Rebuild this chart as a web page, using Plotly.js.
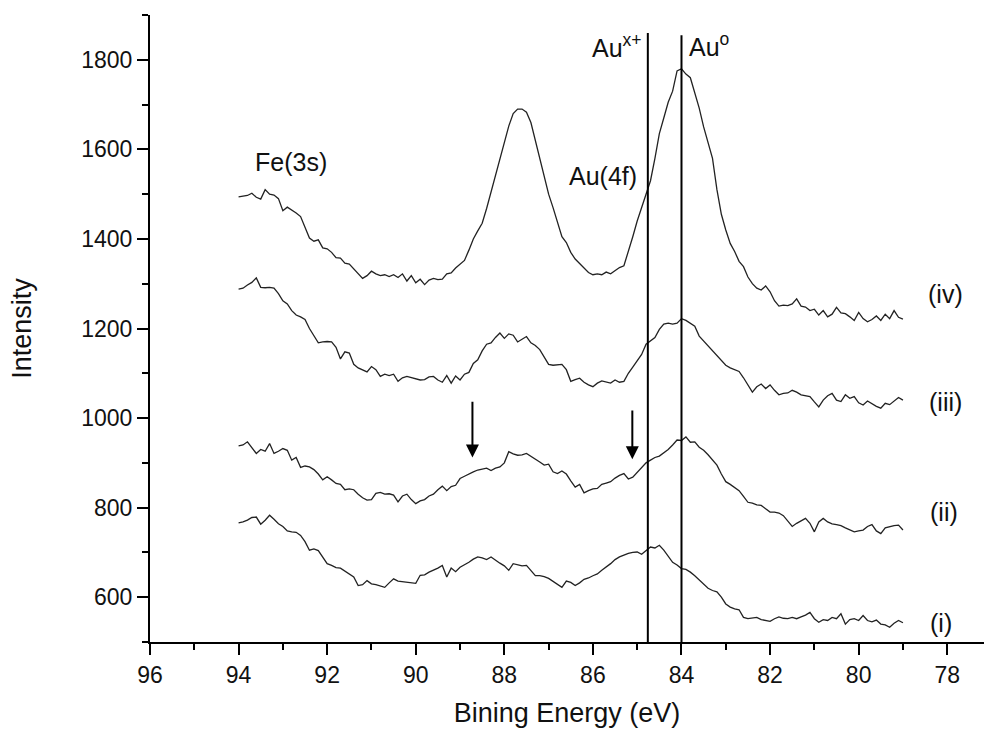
<!DOCTYPE html>
<html>
<head>
<meta charset="utf-8">
<script src="https://cdn.plot.ly/plotly-3.0.1.min.js"></script>
<style>html,body{margin:0;padding:0;background:#fff;}#chart{width:984px;height:736px;}</style>
</head>
<body>
<div id="chart"></div>
<script>
// Binding energy grid (eV), 94.0 down to 79.0 in 0.1 eV steps
const energy = Array.from({length: 151}, (_, i) => +(94 - 0.1 * i).toFixed(1));

const seriesIV = [
1494,1495,1497,1502,1493,1489,1510,1500,1498,1490,
1463,1471,1465,1458,1450,1425,1402,1395,1398,1380,
1378,1370,1358,1357,1346,1344,1333,1322,1312,1318,
1328,1322,1318,1320,1316,1320,1314,1322,1306,1318,
1302,1310,1298,1308,1312,1309,1310,1322,1324,1335,
1343,1352,1375,1400,1418,1435,1468,1505,1545,1582,
1620,1652,1680,1690,1690,1683,1660,1620,1585,1545,
1500,1470,1440,1405,1392,1370,1355,1345,1333,1325,
1320,1322,1320,1326,1322,1330,1336,1340,1370,1405,
1440,1470,1495,1530,1580,1635,1670,1705,1730,1775,
1780,1768,1760,1725,1692,1650,1615,1580,1510,1455,
1420,1390,1372,1350,1338,1315,1300,1290,1286,1295,
1282,1262,1250,1252,1251,1255,1266,1250,1248,1240,
1243,1230,1240,1226,1232,1247,1235,1233,1226,1218,
1236,1222,1215,1220,1228,1218,1232,1222,1240,1225,
1221];

const seriesIII = [
1288,1290,1297,1303,1313,1292,1291,1292,1290,1278,
1262,1255,1240,1230,1226,1220,1200,1185,1168,1170,
1171,1170,1158,1132,1148,1145,1120,1112,1108,1103,
1115,1108,1093,1098,1095,1098,1082,1090,1093,1090,
1087,1085,1086,1092,1093,1085,1080,1095,1078,1094,
1085,1098,1102,1122,1130,1150,1165,1168,1180,1190,
1178,1188,1185,1170,1176,1182,1168,1162,1153,1138,
1120,1118,1119,1120,1108,1082,1086,1089,1080,1074,
1070,1078,1083,1080,1078,1085,1080,1082,1100,1114,
1128,1142,1165,1172,1180,1198,1210,1212,1210,1212,
1222,1218,1212,1205,1183,1172,1162,1150,1140,1128,
1118,1112,1108,1104,1090,1075,1058,1070,1076,1066,
1074,1062,1052,1055,1056,1062,1058,1052,1050,1048,
1036,1025,1040,1050,1055,1040,1037,1052,1044,1048,
1034,1029,1038,1032,1026,1022,1033,1030,1038,1046,
1040];

const seriesII = [
938,940,947,935,921,930,926,943,921,926,
932,928,906,912,890,893,891,885,875,862,
869,862,854,852,840,842,840,830,822,817,
818,832,834,830,831,828,813,826,830,818,
809,815,818,826,830,840,848,838,847,850,
865,870,876,880,884,886,888,883,888,891,
900,925,920,917,918,921,915,908,902,895,
897,880,876,882,875,860,846,852,833,838,
842,843,852,855,858,866,872,876,864,868,
878,888,900,906,912,915,922,930,940,951,
950,958,946,947,935,928,918,906,895,875,
858,852,845,838,825,812,810,806,805,798,
790,790,788,782,770,758,765,770,776,765,
746,768,776,768,764,762,760,755,750,746,
748,750,758,762,748,742,755,758,760,761,
750];

const seriesI = [
766,768,772,778,779,763,772,783,774,764,
758,748,746,745,738,724,705,708,704,690,
675,671,666,665,658,652,645,626,628,637,
630,628,625,622,632,641,636,635,634,633,
631,649,650,656,660,665,671,645,665,657,
667,672,678,685,690,688,684,690,682,676,
670,660,675,672,670,671,660,648,648,646,
642,635,628,622,636,633,626,632,640,643,
648,652,660,667,675,684,690,694,698,700,
701,696,705,712,710,716,705,692,678,672,
664,662,656,648,638,628,620,615,612,600,
585,578,574,572,555,552,553,555,550,548,
546,552,556,553,552,555,552,556,560,566,
552,544,550,548,555,552,563,540,550,552,
548,559,548,545,549,540,538,533,542,548,
543];

const seriesLabels = ['(iv)', '(iii)', '(ii)', '(i)'];
const refLineEnergies = [84.76, 84.0];   // Au x+ and Au 0 positions
const refLineTops = [1860, 1855];
const arrowEnergies = [88.72, 85.11];

const allSeries = [seriesIV, seriesIII, seriesII, seriesI];
const traces = allSeries.map((ys, k) => ({
  x: energy, y: ys, type: 'scatter', mode: 'lines',
  name: seriesLabels[k], showlegend: false,
  line: {color: '#222', width: 1.3}
}));

const FONT = 'Liberation Sans, Arial, Helvetica, sans-serif';

const shapes = refLineEnergies.map((e, k) => ({
  type: 'line', xref: 'x', yref: 'y', x0: e, x1: e, y0: 500, y1: refLineTops[k],
  line: {color: '#000', width: 2}
}));

const annotations = [
  {x: 92.82, y: 1571, text: 'Fe(3s)', showarrow: false},
  {x: 85.77, y: 1540, text: 'Au(4f)', showarrow: false},
  {x: 84.84, y: 1831, text: 'Au<sup>x+</sup>', showarrow: false, xanchor: 'right'},
  {x: 83.88, y: 1833, text: 'Au<sup>o</sup>', showarrow: false, xanchor: 'left'},
  {x: 78.03, y: 1276, text: seriesLabels[0], showarrow: false},
  {x: 78.03, y: 1036, text: seriesLabels[1], showarrow: false},
  {x: 78.08, y: 790, text: seriesLabels[2], showarrow: false},
  {x: 78.13, y: 543, text: seriesLabels[3], showarrow: false},
  {x: arrowEnergies[0], y: 912, ax: arrowEnergies[0], ay: 1040, axref: 'x', ayref: 'y', text: '',
   showarrow: true, arrowhead: 2, arrowsize: 1.3, arrowwidth: 2, arrowcolor: '#000'},
  {x: arrowEnergies[1], y: 908, ax: arrowEnergies[1], ay: 1020, axref: 'x', ayref: 'y', text: '',
   showarrow: true, arrowhead: 2, arrowsize: 1.3, arrowwidth: 2, arrowcolor: '#000'}
].map(a => Object.assign({xref: 'x', yref: 'y', font: {family: FONT, size: 25, color: '#111'}}, a));

const layout = {
  width: 984, height: 736,
  margin: {l: 150, r: 0, t: 15, b: 94, pad: 0},
  paper_bgcolor: '#fff', plot_bgcolor: '#fff',
  font: {family: FONT, color: '#111'},
  xaxis: {
    range: [96, 77.17], autorange: false,
    tickmode: 'linear', tick0: 96, dtick: 2,
    ticks: 'outside', ticklen: 11, tickwidth: 2, tickcolor: '#000',
    minor: {dtick: 1, tick0: 96, ticks: 'outside', ticklen: 6, tickwidth: 2, tickcolor: '#000', showgrid: false},
    showline: true, linewidth: 2, linecolor: '#000',
    showgrid: false, zeroline: false,
    tickfont: {family: FONT, size: 23, color: '#111'},
    title: {text: 'Bining Energy (eV)', font: {family: FONT, size: 27, color: '#111'}, standoff: 17}
  },
  yaxis: {
    range: [500, 1900], autorange: false,
    tickmode: 'linear', tick0: 0, dtick: 200,
    ticks: 'outside', ticklen: 11, tickwidth: 2, tickcolor: '#000',
    minor: {dtick: 100, tick0: 0, ticks: 'outside', ticklen: 6, tickwidth: 2, tickcolor: '#000', showgrid: false},
    showline: true, linewidth: 2, linecolor: '#000',
    showgrid: false, zeroline: false,
    tickfont: {family: FONT, size: 23, color: '#111'},
    title: {text: 'Intensity', font: {family: FONT, size: 27, color: '#111'}, standoff: 42}
  },
  shapes: shapes,
  annotations: annotations
};

Plotly.newPlot('chart', traces, layout, {displayModeBar: false, staticPlot: true});
</script>
</body>
</html>
